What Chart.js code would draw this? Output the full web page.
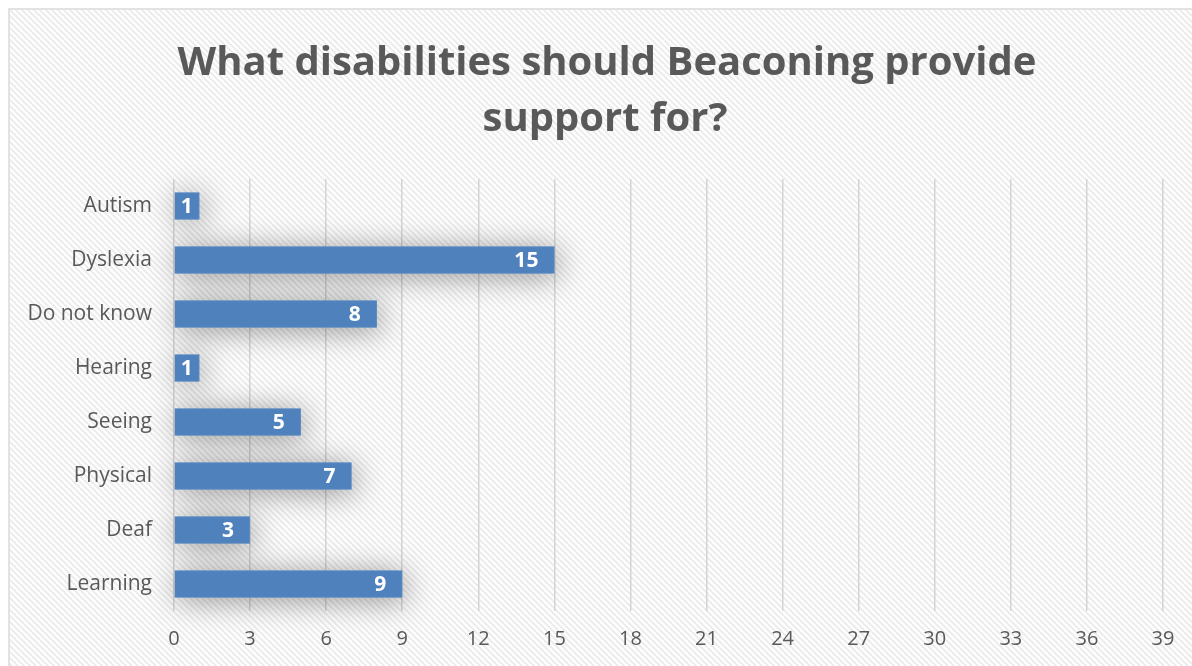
<!DOCTYPE html>
<html>
<head>
<meta charset="utf-8">
<style>
  html, body { margin: 0; padding: 0; background: #fff; }
  #wrap { width: 1192px; height: 666px; position: relative; }
</style>
<script src="https://cdn.jsdelivr.net/npm/chart.js@4"></script>
</head>
<body>
<div id="wrap"><canvas id="chart" width="1192" height="666"></canvas></div>
<script>
// ── Data ──
const titleLines = ['What disabilities should Beaconing provide', 'support for?'];
const categories = ['Autism', 'Dyslexia', 'Do not know', 'Hearing', 'Seeing', 'Physical', 'Deaf', 'Learning'];
const counts = [1, 15, 8, 1, 5, 7, 3, 9];
const axisMax = 39;
const axisStep = 3;

const FONT = '"Open Sans", sans-serif';
const TEXT_GREY = '#595959';
const BAR_BLUE = '#4f81bd';

// diagonal hatch used by the chart background
function makeHatch(ctx) {
  const c = document.createElement('canvas');
  c.width = 6; c.height = 6;
  const g = c.getContext('2d');
  g.fillStyle = '#ffffff';
  g.fillRect(0, 0, 6, 6);
  g.strokeStyle = '#ececec';
  g.lineWidth = 2;
  g.beginPath();
  g.moveTo(-1, -1); g.lineTo(7, 7);
  g.moveTo(-4, 2); g.lineTo(4, 10);
  g.moveTo(2, -4); g.lineTo(10, 4);
  g.stroke();
  return ctx.createPattern(c, 'repeat');
}

const backdrop = {
  id: 'backdrop',
  beforeDraw(chart) {
    const ctx = chart.ctx;
    ctx.save();
    ctx.fillStyle = '#ffffff';
    ctx.fillRect(0, 0, chart.width, chart.height);
    ctx.fillStyle = makeHatch(ctx);
    ctx.fillRect(10, 10, chart.width - 10, chart.height - 10);
    ctx.strokeStyle = '#d9d9d9';
    ctx.lineWidth = 1.5;
    ctx.strokeRect(9, 9, chart.width + 10, chart.height + 10);
    ctx.restore();
  },
  afterDraw(chart) {
    const ctx = chart.ctx;
    ctx.save();
    ctx.fillStyle = TEXT_GREY;
    ctx.textAlign = 'center';
    ctx.textBaseline = 'alphabetic';
    ctx.font = 'bold 40px ' + FONT;
    ctx.fillText(titleLines[0], 607, 75);
    ctx.fillText(titleLines[1], 605, 131);
    ctx.restore();
  }
};

// soft grey shadow around the bars, drawn under them
const barShadow = {
  id: 'barShadow',
  beforeDatasetsDraw(chart) {
    const ctx = chart.ctx;
    const meta = chart.getDatasetMeta(0);
    ctx.save();
    ctx.shadowColor = 'rgba(0,0,0,0.42)';
    ctx.shadowBlur = 30;
    ctx.shadowOffsetX = 3;
    ctx.shadowOffsetY = 3;
    ctx.fillStyle = BAR_BLUE;
    meta.data.forEach(function(bar) {
      ctx.fillRect(bar.base, bar.y - bar.height / 2, bar.x - bar.base, bar.height);
    });
    ctx.restore();
  }
};

// white value labels at the inside end of each bar
const valueLabels = {
  id: 'valueLabels',
  afterDatasetsDraw(chart) {
    const ctx = chart.ctx;
    const meta = chart.getDatasetMeta(0);
    ctx.save();
    ctx.fillStyle = '#ffffff';
    ctx.font = 'bold 21px ' + FONT;
    ctx.textAlign = 'left';
    ctx.textBaseline = 'middle';
    meta.data.forEach(function(bar, i) {
      const txt = String(counts[i]);
      const w = ctx.measureText(txt).width;
      let x = bar.x - 16 - w;
      if (x < bar.base + 6) x = bar.base + 6;
      ctx.fillText(txt, x, bar.y + 1);
    });
    ctx.restore();
  }
};

new Chart(document.getElementById('chart'), {
  type: 'bar',
  data: {
    labels: categories,
    datasets: [{
      data: counts,
      backgroundColor: BAR_BLUE,
      borderColor: '#5a8cc6',
      borderWidth: 1,
      barPercentage: 0.5,
      categoryPercentage: 1
    }]
  },
  options: {
    indexAxis: 'y',
    responsive: false,
    animation: false,
    devicePixelRatio: 1,
    layout: { padding: { left: 0, top: 179, right: 29, bottom: 0 } },
    plugins: { legend: { display: false }, tooltip: { enabled: false } },
    scales: {
      x: {
        min: 0, max: axisMax,
        ticks: { stepSize: axisStep, color: TEXT_GREY, font: { family: FONT, size: 20 }, padding: 16 },
        grid: { color: '#d4d4d4', lineWidth: 1.5, drawTicks: false },
        border: { display: false },
        afterFit: function(s) { s.height = 55; }
      },
      y: {
        ticks: { color: TEXT_GREY, font: { family: FONT, size: 21 }, padding: 22 },
        grid: { display: false, drawTicks: false },
        border: { display: false },
        afterFit: function(s) { s.width = 174; }
      }
    }
  },
  plugins: [backdrop, barShadow, valueLabels]
});
</script>
</body>
</html>
